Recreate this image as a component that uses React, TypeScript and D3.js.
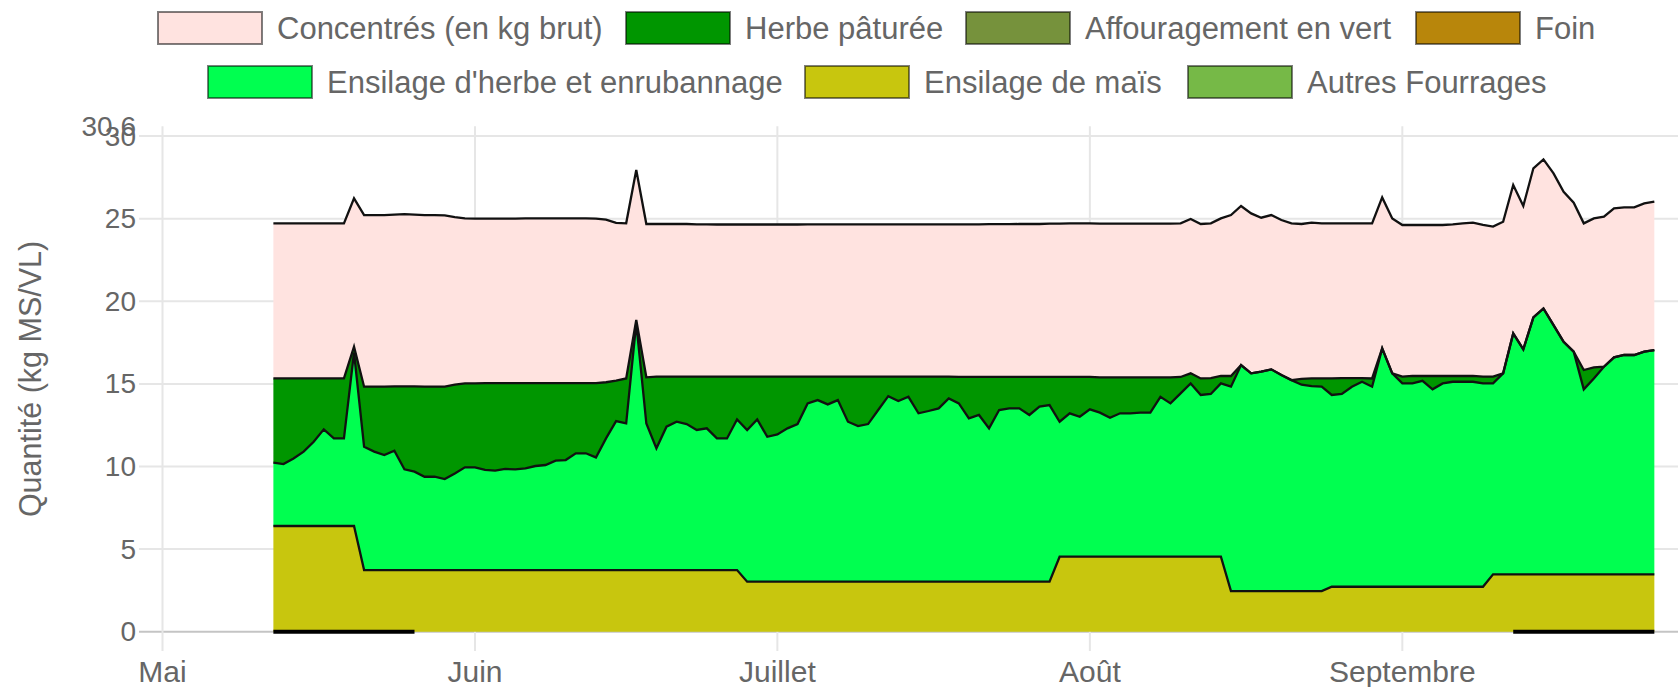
import React from 'react';
import * as d3 from 'd3';

// ---------- DATA (daily values, 12 mai -> 26 septembre) ----------
const firstDate = '2021-05-12';

const concentres = [
  9.39, 9.39, 9.39, 9.39, 9.39, 9.39, 9.39, 9.39, 8.98, 10.39,
  10.39, 10.39, 10.4, 10.43, 10.4, 10.39, 10.39, 10.37, 10.15, 9.99,
  9.97, 9.95, 9.95, 9.95, 9.95, 9.97, 9.97, 9.97, 9.97, 9.97,
  9.97, 9.97, 9.95, 9.85, 9.55, 9.39, 9.08, 9.28, 9.24, 9.24,
  9.24, 9.24, 9.22, 9.22, 9.21, 9.21, 9.21, 9.21, 9.21, 9.21,
  9.21, 9.21, 9.21, 9.22, 9.22, 9.22, 9.22, 9.22, 9.22, 9.22,
  9.22, 9.22, 9.22, 9.22, 9.22, 9.22, 9.22, 9.22, 9.24, 9.24,
  9.24, 9.25, 9.25, 9.25, 9.26, 9.26, 9.26, 9.28, 9.28, 9.3,
  9.3, 9.3, 9.3, 9.3, 9.3, 9.3, 9.3, 9.3, 9.3, 9.3,
  9.3, 9.34, 9.35, 9.37, 9.54, 9.74, 9.63, 9.68, 9.32, 9.34,
  9.38, 9.49, 9.38, 9.43, 9.39, 9.39, 9.37, 9.37, 9.37, 9.39,
  9.14, 9.38, 9.18, 9.14, 9.14, 9.14, 9.14, 9.18, 9.24, 9.28,
  9.18, 9.08, 9.18, 8.98, 8.68, 9.02, 9.02, 9.18, 9.08, 9.02,
  8.88, 9.02, 9.08, 9.02, 8.94, 8.94, 8.98, 8.98,
];

const herbePaturee = [
  5.1, 5.18, 4.84, 4.43, 3.83, 3.08, 3.63, 3.63, 0.35, 3.63,
  3.93, 4.14, 3.89, 5.02, 5.16, 5.45, 5.45, 5.59, 5.37, 5.08,
  5.08, 5.26, 5.3, 5.2, 5.22, 5.16, 5.02, 4.96, 4.7, 4.66,
  4.25, 4.25, 4.5, 3.4, 2.45, 2.72, 0.17, 2.8, 4.34, 3.03,
  2.73, 2.87, 3.23, 3.13, 3.74, 3.74, 2.59, 3.23, 2.59, 3.64,
  3.5, 3.13, 2.87, 1.62, 1.42, 1.68, 1.42, 2.73, 2.99, 2.87,
  2.02, 1.18, 1.48, 1.22, 2.22, 2.08, 1.92, 1.32, 1.6, 2.51,
  2.3, 3.11, 2.0, 1.9, 1.9, 2.3, 1.8, 1.7, 2.71, 2.2,
  2.41, 1.96, 2.14, 2.45, 2.18, 2.18, 2.14, 2.14, 1.18, 1.58,
  0.99, 0.61, 1.0, 0.96, 0.45, 0.65, 0, 0, 0, 0,
  0, 0, 0.35, 0.46, 0.5, 1.0, 0.96, 0.52, 0.22, 0.5,
  0, 0, 0.41, 0.45, 0.29, 0.81, 0.45, 0.35, 0.35, 0.35,
  0.41, 0.41, 0, 0, 0, 0, 0, 0, 0, 0,
  1.17, 0.67, 0, 0, 0, 0, 0, 0,
];

const ensilageHerbe = [
  3.83, 3.75, 4.09, 4.5, 5.1, 5.85, 5.3, 5.3, 10.5, 7.47,
  7.17, 6.96, 7.23, 6.1, 5.96, 5.65, 5.65, 5.51, 5.85, 6.22,
  6.22, 6.06, 6.02, 6.12, 6.1, 6.16, 6.3, 6.36, 6.62, 6.66,
  7.07, 7.07, 6.82, 7.97, 9.02, 8.88, 14.97, 8.87, 7.37, 8.68,
  8.98, 8.84, 8.48, 8.58, 7.97, 7.97, 9.12, 9.18, 9.82, 8.77,
  8.91, 9.28, 9.54, 10.79, 10.99, 10.73, 10.99, 9.68, 9.42, 9.54,
  10.39, 11.23, 10.93, 11.19, 10.19, 10.33, 10.49, 11.09, 10.79, 9.88,
  10.09, 9.28, 10.39, 10.49, 10.49, 10.09, 10.59, 10.69, 8.17, 8.68,
  8.47, 8.92, 8.72, 8.41, 8.68, 8.68, 8.72, 8.72, 9.68, 9.28,
  9.89, 10.49, 9.79, 9.85, 10.49, 12.37, 13.68, 13.18, 13.28, 13.42,
  13.08, 12.77, 12.49, 12.41, 12.37, 11.61, 11.67, 12.11, 12.41, 12.11,
  14.43, 12.92, 12.31, 12.31, 12.47, 11.95, 12.31, 12.41, 12.41, 12.41,
  12.31, 11.56, 12.17, 14.59, 13.62, 15.56, 16.1, 15.09, 14.08, 13.48,
  11.2, 11.86, 12.57, 13.14, 13.28, 13.28, 13.48, 13.58,
];

const ensilageMais = [
  6.4, 6.4, 6.4, 6.4, 6.4, 6.4, 6.4, 6.4, 6.4, 3.73,
  3.73, 3.73, 3.73, 3.73, 3.73, 3.73, 3.73, 3.73, 3.73, 3.73,
  3.73, 3.73, 3.73, 3.73, 3.73, 3.73, 3.73, 3.73, 3.73, 3.73,
  3.73, 3.73, 3.73, 3.73, 3.73, 3.73, 3.73, 3.73, 3.73, 3.73,
  3.73, 3.73, 3.73, 3.73, 3.73, 3.73, 3.73, 3.03, 3.03, 3.03,
  3.03, 3.03, 3.03, 3.03, 3.03, 3.03, 3.03, 3.03, 3.03, 3.03,
  3.03, 3.03, 3.03, 3.03, 3.03, 3.03, 3.03, 3.03, 3.03, 3.03,
  3.03, 3.03, 3.03, 3.03, 3.03, 3.03, 3.03, 3.03, 4.54, 4.54,
  4.54, 4.54, 4.54, 4.54, 4.54, 4.54, 4.54, 4.54, 4.54, 4.54,
  4.54, 4.54, 4.54, 4.54, 4.54, 2.46, 2.46, 2.46, 2.46, 2.46,
  2.46, 2.46, 2.46, 2.46, 2.46, 2.72, 2.72, 2.72, 2.72, 2.72,
  2.72, 2.72, 2.72, 2.72, 2.72, 2.72, 2.72, 2.72, 2.72, 2.72,
  2.72, 3.47, 3.47, 3.47, 3.47, 3.47, 3.47, 3.47, 3.47, 3.47,
  3.47, 3.47, 3.47, 3.47, 3.47, 3.47, 3.47, 3.47,
];

// Foin : saisi à 0 sur deux périodes seulement
const foinDebut = { start: '2021-05-12', values: [0, 0, 0, 0, 0, 0, 0, 0, 0, 0, 0, 0, 0, 0, 0] };
const foinFin = { start: '2021-09-12', values: [0, 0, 0, 0, 0, 0, 0, 0, 0, 0, 0, 0, 0, 0, 0] };

const monthTicks = ['2021-05-01', '2021-06-01', '2021-07-01', '2021-08-01', '2021-09-01'];
const monthLabels = ['Mai', 'Juin', 'Juillet', 'Août', 'Septembre'];
const yTicks = [0, 5, 10, 15, 20, 25, 30];
const yMax = 30.6;

const legendRow1 = [
  { label: 'Concentrés (en kg brut)', color: '#ffe3e0' },
  { label: 'Herbe pâturée', color: '#009600' },
  { label: 'Affouragement en vert', color: '#76923c' },
  { label: 'Foin', color: '#b8860b' },
];
const legendRow2 = [
  { label: "Ensilage d'herbe et enrubannage", color: '#00ff50' },
  { label: 'Ensilage de maïs', color: '#c8c60e' },
  { label: 'Autres Fourrages', color: '#76b947' },
];

// ---------- LAYOUT ----------
const W = 1678;
const H = 687;
const FONT = "'Liberation Sans', Arial, Helvetica, sans-serif";
const TEXT = '#666';

const parse = d3.timeParse('%Y-%m-%d');

export default function App() {
  const x = d3
    .scaleTime()
    .domain([parse('2021-05-01')!, parse('2021-10-01')!])
    .range([162.5, 162.5 + 153 * 10.08]);
  const y = d3.scaleLinear().domain([0, yMax]).range([631.7, 126.2]);

  const start = parse(firstDate)!;
  const rows = concentres.map((_, i) => ({
    date: d3.timeDay.offset(start, i),
    mais: ensilageMais[i],
    ensH: ensilageHerbe[i],
    herbe: herbePaturee[i],
    conc: concentres[i],
  }));
  const keys = ['mais', 'ensH', 'herbe', 'conc'];
  const fills: Record<string, string> = {
    mais: '#c8c60e',
    ensH: '#00ff50',
    herbe: '#009600',
    conc: '#ffe3e0',
  };
  const stacked = d3.stack<any>().keys(keys)(rows);

  const area = d3
    .area<any>()
    .x((d) => x(d.data.date))
    .y0((d) => y(d[0]))
    .y1((d) => y(d[1]));
  const topLine = d3
    .line<any>()
    .x((d) => x(d.data.date))
    .y((d) => y(d[1]));

  const foinLine = d3
    .line<{ date: Date; v: number }>()
    .x((d) => x(d.date))
    .y((d) => y(d.v));
  const foinSegs = [foinDebut, foinFin].map((s) =>
    s.values.map((v, i) => ({ date: d3.timeDay.offset(parse(s.start)!, i), v }))
  );

  const legendItem = (
    it: { label: string; color: string },
    bx: number,
    by: number
  ) => (
    <g key={it.label}>
      <rect
        x={bx}
        y={by}
        width={104}
        height={32}
        fill={it.color}
        stroke="rgba(0,0,0,0.5)"
        strokeWidth={2}
      />
      <text
        x={bx + 119}
        y={by + 16}
        dominantBaseline="central"
        fontSize={31}
        fill={TEXT}
        fontFamily={FONT}
      >
        {it.label}
      </text>
    </g>
  );
  const row1X = [158, 626, 966, 1416];
  const row2X = [208, 805, 1188];

  return (
    <svg
      width={W}
      height={H}
      style={{ position: 'absolute', left: 0, top: 0, background: '#fff' }}
    >
      {/* grid */}
      <g>
        {yTicks.map((t) => (
          <line
            key={'h' + t}
            x1={139}
            x2={W}
            y1={y(t)}
            y2={y(t)}
            stroke={t === 0 ? '#c4c4c4' : '#e6e6e6'}
            strokeWidth={2}
          />
        ))}
        {monthTicks.map((m) => (
          <line
            key={'v' + m}
            x1={x(parse(m)!)}
            x2={x(parse(m)!)}
            y1={y(yMax)}
            y2={651}
            stroke="#e6e6e6"
            strokeWidth={2}
          />
        ))}
      </g>

      {/* areas */}
      <g>
        {stacked.map((s) => (
          <path key={'a' + s.key} d={area(s) || ''} fill={fills[s.key]} stroke="none" />
        ))}
        {stacked.map((s) => (
          <path
            key={'l' + s.key}
            d={topLine(s) || ''}
            fill="none"
            stroke="#111"
            strokeWidth={2.3}
            strokeLinejoin="miter"
          />
        ))}
        {foinSegs.map((seg, i) => (
          <path key={'f' + i} d={foinLine(seg) || ''} fill="none" stroke="#000" strokeWidth={4} />
        ))}
      </g>

      {/* y axis labels */}
      <g fontFamily={FONT} fontSize={28} fill={TEXT}>
        {yTicks.map((t) => (
          <text key={'yt' + t} x={136} y={y(t)} textAnchor="end" dominantBaseline="central">
            {t}
          </text>
        ))}
        <text x={136} y={y(yMax)} textAnchor="end" dominantBaseline="central">
          {yMax}
        </text>
      </g>

      {/* x axis labels */}
      <g fontFamily={FONT} fontSize={30} fill={TEXT}>
        {monthTicks.map((m, i) => (
          <text
            key={'xt' + m}
            x={x(parse(m)!)}
            y={671}
            textAnchor="middle"
            dominantBaseline="central"
          >
            {monthLabels[i]}
          </text>
        ))}
      </g>

      {/* y axis title */}
      <text
        transform={`translate(30, ${(y(0) + y(yMax)) / 2}) rotate(-90)`}
        textAnchor="middle"
        dominantBaseline="central"
        fontFamily={FONT}
        fontSize={30.5}
        fill={TEXT}
      >
        Quantité (kg MS/VL)
      </text>

      {/* legend */}
      <g>
        {legendRow1.map((it, i) => legendItem(it, row1X[i], 12))}
        {legendRow2.map((it, i) => legendItem(it, row2X[i], 66))}
      </g>
    </svg>
  );
}
